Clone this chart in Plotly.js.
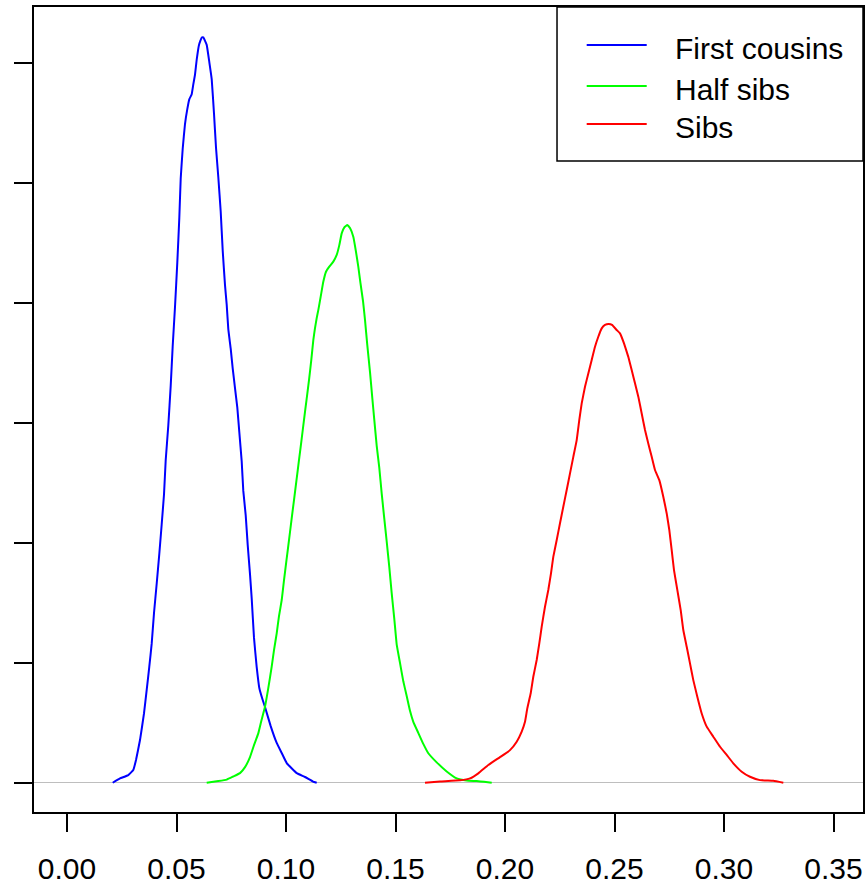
<!DOCTYPE html>
<html>
<head>
<meta charset="utf-8">
<script src="https://cdn.plot.ly/plotly-3.0.1.min.js"></script>
<style>
  html, body { margin: 0; padding: 0; background: #ffffff; }
  #chart { width: 868px; height: 890px; }
</style>
</head>
<body>
<div id="chart"></div>
<script>
// ---- Data (density estimates) ----
const seriesNames = ["First cousins", "Half sibs", "Sibs"];
const seriesColors = ["#0000FF", "#00FF00", "#FF0000"];

const firstCousinsX = [0.02087,0.02420,0.02799,0.03027,0.03151,0.03333,0.03516,0.03639,0.03758,0.03868,0.03973,0.04096,0.04215,0.04324,0.04429,0.04507,0.04626,0.04735,0.04826,0.04932,0.05037,0.05128,0.05192,0.05283,0.05388,0.05493,0.05584,0.05694,0.05767,0.05845,0.05922,0.06027,0.06151,0.06224,0.06379,0.06498,0.06607,0.06712,0.06804,0.06909,0.07018,0.07110,0.07215,0.07292,0.07365,0.07475,0.07566,0.07671,0.07776,0.07868,0.07977,0.08050,0.08160,0.08251,0.08356,0.08434,0.08539,0.08662,0.08781,0.08936,0.09041,0.09301,0.09575,0.09804,0.10032,0.10489,0.10868,0.11233,0.11402];
const firstCousinsY = [0,0.18,0.32,0.53,0.95,1.78,2.89,3.87,4.84,5.81,7.08,8.31,9.55,10.78,12.02,13.46,14.90,16.55,18.20,19.85,21.70,23.56,25.20,26.44,27.47,28.09,28.50,28.71,29.12,29.53,30.15,30.77,31.08,31.08,30.77,30.05,29.34,27.91,26.48,25.25,23.82,22.19,20.75,19.94,18.92,18.10,17.28,16.46,15.65,14.62,13.40,12.17,11.15,9.92,8.70,7.68,6.04,4.82,3.95,3.45,3.16,2.36,1.66,1.24,0.82,0.40,0.24,0.05,0];

const halfSibsX = [0.06379,0.06909,0.07292,0.07594,0.07900,0.08128,0.08356,0.08539,0.08735,0.08881,0.09041,0.09178,0.09347,0.09452,0.09575,0.09680,0.09804,0.09909,0.10023,0.10137,0.10251,0.10365,0.10479,0.10594,0.10708,0.10822,0.10936,0.11050,0.11155,0.11247,0.11324,0.11402,0.11475,0.11584,0.11703,0.11826,0.11977,0.12160,0.12315,0.12434,0.12543,0.12671,0.12799,0.12922,0.13073,0.13196,0.13301,0.13402,0.13516,0.13607,0.13712,0.13836,0.13941,0.14032,0.14142,0.14260,0.14370,0.14475,0.14598,0.14717,0.14826,0.14945,0.15055,0.15205,0.15356,0.15511,0.15662,0.15813,0.16041,0.16269,0.16498,0.16881,0.17338,0.17795,0.18251,0.18708,0.19041,0.19393];
const halfSibsY = [0,0.07,0.13,0.26,0.40,0.65,1.07,1.57,2.06,2.61,3.17,3.87,4.84,5.53,6.23,6.95,7.62,8.45,9.29,10.12,10.96,11.79,12.62,13.46,14.29,15.13,15.96,16.79,17.63,18.46,18.96,19.38,19.71,20.27,20.89,21.31,21.52,21.73,22.01,22.42,22.91,23.17,23.26,23.13,22.77,22.14,21.52,20.82,20.09,19.30,18.25,17.12,16.04,15.13,14.05,13.13,12.06,11.13,10.06,8.99,7.91,6.83,5.76,5.00,4.23,3.62,3.00,2.54,2.08,1.62,1.23,0.85,0.47,0.18,0.09,0.07,0.04,0];

const sibsX = [0.16347,0.17032,0.17945,0.18402,0.18781,0.19237,0.19772,0.20228,0.20534,0.20763,0.20913,0.21018,0.21174,0.21292,0.21447,0.21566,0.21676,0.21826,0.21977,0.22100,0.22205,0.22361,0.22511,0.22662,0.22817,0.22968,0.23119,0.23274,0.23393,0.23502,0.23653,0.23804,0.23959,0.24110,0.24260,0.24416,0.24566,0.24740,0.24886,0.25100,0.25251,0.25434,0.25630,0.25785,0.25936,0.26087,0.26242,0.26393,0.26543,0.26699,0.26849,0.27046,0.27228,0.27384,0.27502,0.27612,0.27717,0.27868,0.28023,0.28142,0.28297,0.28447,0.28598,0.28781,0.28982,0.29210,0.29511,0.29817,0.30123,0.30425,0.30808,0.31187,0.31644,0.32251,0.32708];
const sibsY = [0,0.05,0.10,0.18,0.39,0.74,1.07,1.36,1.71,2.13,2.54,3.10,3.73,4.42,5.12,5.81,6.51,7.34,8.04,8.73,9.42,10.12,10.82,11.51,12.21,12.90,13.59,14.29,15.13,15.82,16.51,17.07,17.63,18.18,18.60,18.95,19.09,19.13,19.09,18.88,18.74,18.32,17.76,17.21,16.66,16.10,15.40,14.71,14.15,13.59,13.04,12.62,11.93,11.23,10.54,9.70,8.87,8.04,7.20,6.37,5.67,4.98,4.28,3.59,2.89,2.34,1.92,1.50,1.16,0.81,0.46,0.25,0.11,0.08,0];

const xTickVals = [0.00,0.05,0.10,0.15,0.20,0.25,0.30,0.35];
const xTickText = ["0.00","0.05","0.10","0.15","0.20","0.25","0.30","0.35"];
const yTickVals = [0,5,10,15,20,25,30];

// ---- Traces ----
const xs = [firstCousinsX, halfSibsX, sibsX];
const ys = [firstCousinsY, halfSibsY, sibsY];
const traces = xs.map((x, i) => ({
  type: "scatter",
  mode: "lines",
  x: x,
  y: ys[i],
  name: seriesNames[i],
  line: { color: seriesColors[i], width: 2, shape: "spline", smoothing: 0.3 },
  showlegend: false,
  hoverinfo: "x+y+name"
}));

// ---- Manual R-style legend (box, line samples, labels) ----
const legendRowsY = [0.9528, 0.9019, 0.8547];
const shapes = [
  { type: "rect", xref: "paper", yref: "paper", x0: 0.6309, x1: 1.0, y0: 0.8087, y1: 1.0,
    line: { color: "#000000", width: 1.5 }, fillcolor: "#ffffff", layer: "above" }
];
const annotations = [];
seriesNames.forEach((name, i) => {
  shapes.push({ type: "line", xref: "paper", yref: "paper",
    x0: 0.6667, x1: 0.7391, y0: legendRowsY[i], y1: legendRowsY[i],
    line: { color: seriesColors[i], width: 2 }, layer: "above" });
  annotations.push({ xref: "paper", yref: "paper", x: 0.7708, y: legendRowsY[i] - 0.004,
    xanchor: "left", yanchor: "middle", showarrow: false, text: name,
    font: { family: "Liberation Sans, Arial, sans-serif", size: 30, color: "#000000" } });
});

const layout = {
  width: 868,
  height: 890,
  margin: { l: 34, r: 5, t: 7, b: 78, pad: 0 },
  paper_bgcolor: "#ffffff",
  plot_bgcolor: "#ffffff",
  showlegend: false,
  xaxis: {
    range: [-0.01507, 0.36347],
    tickvals: xTickVals,
    ticktext: xTickText,
    ticks: "outside",
    ticklen: 18,
    tickwidth: 2,
    tickcolor: "#000000",
    ticklabelstandoff: 11,
    showline: true,
    linecolor: "#000000",
    linewidth: 2,
    mirror: true,
    showgrid: false,
    zeroline: false,
    automargin: false,
    tickfont: { family: "Liberation Sans, Arial, sans-serif", size: 30, color: "#000000" }
  },
  yaxis: {
    range: [-1.22, 32.35],
    tickvals: yTickVals,
    ticks: "outside",
    ticklen: 18,
    tickwidth: 2,
    tickcolor: "#000000",
    showticklabels: false,
    showline: true,
    linecolor: "#000000",
    linewidth: 2,
    mirror: true,
    showgrid: false,
    zeroline: true,
    zerolinecolor: "#BEBEBE",
    zerolinewidth: 1.5,
    automargin: false
  },
  shapes: shapes,
  annotations: annotations
};

Plotly.newPlot("chart", traces, layout, { displayModeBar: false, staticPlot: true });
</script>
</body>
</html>
